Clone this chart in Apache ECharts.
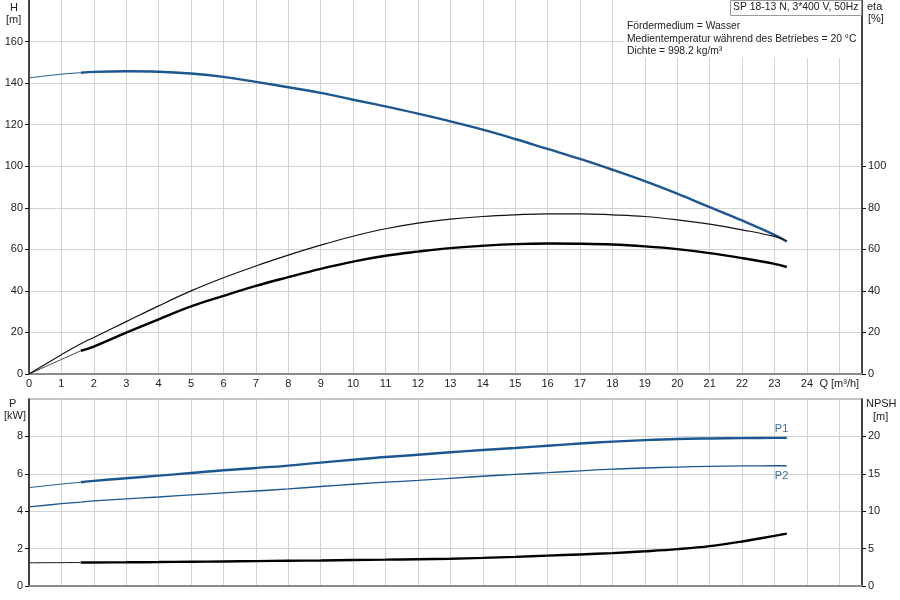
<!DOCTYPE html>
<html>
<head>
<meta charset="utf-8">
<script src="https://cdn.jsdelivr.net/npm/echarts@6/dist/echarts.min.js"></script>
<style>
  html, body { margin: 0; padding: 0; background: #fff; }
  #main { width: 900px; height: 600px; }
</style>
</head>
<body>
<div id="main"></div>
<script>
// flow points (m3/h) shared by all curves; curves are thin up to index 2 (Q=1.6)
var qPts = [0, 1, 1.6, 2, 3, 4, 5, 6, 7, 8, 9, 10, 11, 12, 13, 14, 15, 16, 17, 18, 19, 20, 21, 22, 23, 23.38];
var headVals = [142.5, 144.3, 145.0, 145.4, 145.7, 145.5, 144.6, 143.0, 140.6, 138.0, 135.3, 132.0, 128.8, 125.3, 121.6, 117.6, 113.1, 108.3, 103.5, 98.3, 92.8, 86.8, 80.3, 73.9, 67.0, 63.8];
var etaTotalVals = [0, 9.3, 14.6, 17.6, 25.2, 32.8, 40.0, 46.3, 52.0, 57.2, 62.0, 66.3, 69.9, 72.6, 74.5, 75.8, 76.6, 77.1, 77.1, 76.6, 75.8, 74.2, 72.1, 69.4, 66.2, 64.0];
var etaVals = [0, 7.0, 11.2, 13.2, 19.9, 26.3, 32.5, 37.6, 42.4, 46.6, 50.6, 54.1, 56.9, 58.9, 60.6, 61.7, 62.5, 62.8, 62.7, 62.3, 61.4, 60.1, 58.2, 55.8, 53.0, 51.5];
var p1Vals = [5.26, 5.45, 5.55, 5.62, 5.76, 5.90, 6.04, 6.19, 6.31, 6.44, 6.60, 6.75, 6.90, 7.02, 7.15, 7.27, 7.38, 7.50, 7.62, 7.72, 7.80, 7.86, 7.89, 7.91, 7.92, 7.92];
var p2Vals = [4.23, 4.40, 4.49, 4.55, 4.66, 4.76, 4.87, 4.98, 5.08, 5.19, 5.32, 5.44, 5.55, 5.65, 5.76, 5.87, 5.97, 6.06, 6.16, 6.25, 6.31, 6.36, 6.40, 6.42, 6.43, 6.43];
var npshVals = [3.10, 3.12, 3.14, 3.15, 3.17, 3.20, 3.24, 3.28, 3.33, 3.38, 3.40, 3.47, 3.52, 3.58, 3.65, 3.76, 3.90, 4.06, 4.22, 4.40, 4.64, 4.93, 5.33, 5.95, 6.70, 7.00];

var hTicks = [0, 20, 40, 60, 80, 100, 120, 140, 160];
var etaTicks = [0, 20, 40, 60, 80, 100];
var pTicks = [0, 2, 4, 6, 8];
var npshTicks = [0, 5, 10, 15, 20];

var splitIdx = 2;
function pts(vals, from, to) {
    var out = [];
    for (var i = from; i <= to; i++) out.push([qPts[i], vals[i]]);
    return out;
}
var last = qPts.length - 1;

var blue = '#1c5791';
var font = 'Liberation Sans, Arial, sans-serif';
var txt = { color: '#222', fontSize: 11, fontFamily: font };

var myChart = echarts.init(document.getElementById('main'), null, { renderer: 'canvas' });

function lineSeries(name, x, y, data, color, width, extra) {
    var s = {
        name: name, type: 'line', xAxisIndex: x, yAxisIndex: y,
        data: data, smooth: 0.4, showSymbol: false, symbol: 'none', silent: true,
        lineStyle: { color: color, width: width }
    };
    if (extra) for (var k in extra) s[k] = extra[k];
    return s;
}

function label(text, left, top, size) {
    return { type: 'text', left: left, top: top, z: 5, style: { text: text, fill: '#222', font: (size || 11) + 'px ' + font } };
}

var option = {
    animation: false,
    grid: [
        { left: 29, right: 38, top: 0, bottom: 226, show: false },
        { left: 29, right: 38, top: 399, bottom: 14, show: true, borderColor: '#8a8a8a', borderWidth: 1 }
    ],
    xAxis: [
        {
            gridIndex: 0, type: 'value', min: 0, max: 25.7, interval: 1,
            axisLine: { onZero: false, lineStyle: { color: '#8c8c8c', width: 2 } },
            axisTick: { show: false },
            axisLabel: Object.assign({ margin: 4, showMaxLabel: false, formatter: function (v) {
                if (v === 25) return 'Q [m³/h]';
                return v % 1 === 0 ? String(v) : '';
            } }, txt),
            splitLine: { show: true, lineStyle: { color: '#d2d2d2', width: 1 } }
        },
        {
            gridIndex: 1, type: 'value', min: 0, max: 25.7, interval: 1,
            axisLine: { onZero: false, lineStyle: { color: '#8c8c8c', width: 2 } },
            axisTick: { show: false },
            axisLabel: { show: false },
            splitLine: { show: true, lineStyle: { color: '#d2d2d2', width: 1 } }
        }
    ],
    yAxis: [
        {
            gridIndex: 0, type: 'value', min: 0, max: 180, interval: 20,
            axisLine: { show: true, lineStyle: { color: '#111', width: 1.5 } },
            axisTick: { show: true, length: 4, customValues: hTicks, lineStyle: { color: '#111' } },
            axisLabel: Object.assign({ margin: 6, customValues: hTicks }, txt),
            splitLine: { show: true, lineStyle: { color: '#d2d2d2', width: 1 } }
        },
        {
            gridIndex: 0, type: 'value', min: 0, max: 180, interval: 20, position: 'right',
            axisLine: { show: true, lineStyle: { color: '#111', width: 1.5 } },
            axisTick: { show: true, length: 4, customValues: etaTicks, lineStyle: { color: '#111' } },
            axisLabel: Object.assign({ margin: 6, customValues: etaTicks }, txt),
            splitLine: { show: false }
        },
        {
            gridIndex: 1, type: 'value', min: 0, max: 10, interval: 2,
            axisLine: { show: true, lineStyle: { color: '#111', width: 1.5 } },
            axisTick: { show: true, length: 4, customValues: pTicks, lineStyle: { color: '#111' } },
            axisLabel: Object.assign({ margin: 6, customValues: pTicks }, txt),
            splitLine: { show: true, lineStyle: { color: '#d2d2d2', width: 1 } }
        },
        {
            gridIndex: 1, type: 'value', min: 0, max: 25, interval: 5, position: 'right',
            axisLine: { show: true, lineStyle: { color: '#111', width: 1.5 } },
            axisTick: { show: true, length: 4, customValues: npshTicks, lineStyle: { color: '#111' } },
            axisLabel: Object.assign({ margin: 6, customValues: npshTicks }, txt),
            splitLine: { show: false }
        }
    ],
    graphic: [
        { type: 'rect', left: 624, top: 0, z: 4, shape: { width: 237, height: 58 }, style: { fill: '#fff' } },
        label('H', 10, 2),
        label('[m]', 6, 14),
        label('eta', 867, 1),
        label('[%]', 868, 13),
        label('P', 9, 398),
        label('[kW]', 4, 410),
        label('NPSH', 866, 398),
        label('[m]', 873, 411),
        { type: 'rect', left: 730, top: 0, z: 4, shape: { width: 131, height: 15 }, style: { fill: '#fff', stroke: '#999', lineWidth: 1 } },
        label('SP 18-13 N, 3*400 V, 50Hz', 733, 2, 10.4),
        label('Fördermedium = Wasser', 627, 21, 10.3),
        label('Medientemperatur während des Betriebes = 20 °C', 627, 34, 10.3),
        label('Dichte = 998.2 kg/m³', 627, 46, 10.3)
    ],
    series: [
        lineSeries('H thin', 0, 0, pts(headVals, 0, splitIdx), blue, 1),
        lineSeries('H', 0, 0, pts(headVals, splitIdx, last), blue, 2.4),
        lineSeries('eta total', 0, 1, pts(etaTotalVals, 0, last), '#111', 1.2),
        lineSeries('eta thin', 0, 1, pts(etaVals, 0, splitIdx), '#111', 0.8),
        lineSeries('eta', 0, 1, pts(etaVals, splitIdx, last), '#000', 2.4),
        lineSeries('P1 thin', 1, 2, pts(p1Vals, 0, splitIdx), blue, 1),
        lineSeries('P1', 1, 2, pts(p1Vals, splitIdx, last), blue, 2.4, {
            endLabel: { show: true, formatter: 'P1', color: '#3b6e9c', fontSize: 11, fontFamily: font, offset: [-20, -9] }
        }),
        lineSeries('P2', 1, 2, pts(p2Vals, 0, last), blue, 1.3, {
            endLabel: { show: true, formatter: 'P2', color: '#3b6e9c', fontSize: 11, fontFamily: font, offset: [-20, 10] }
        }),
        lineSeries('NPSH thin', 1, 3, pts(npshVals, 0, splitIdx), '#111', 1),
        lineSeries('NPSH', 1, 3, pts(npshVals, splitIdx, last), '#000', 2.4)
    ]
};

myChart.setOption(option);
window.addEventListener('resize', myChart.resize);
</script>
</body>
</html>
